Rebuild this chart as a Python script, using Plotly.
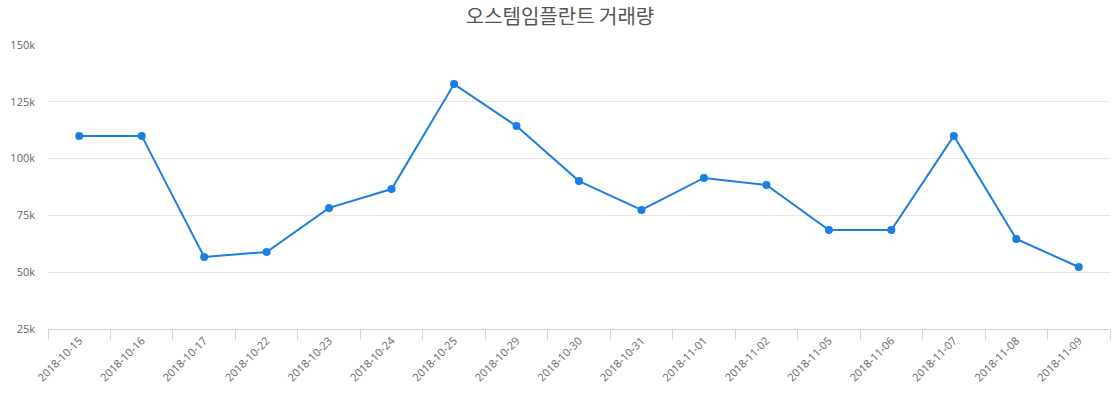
import plotly.graph_objects as go

dates = ["2018-10-15", "2018-10-16", "2018-10-17", "2018-10-22", "2018-10-23", "2018-10-24",
         "2018-10-25", "2018-10-29", "2018-10-30", "2018-10-31", "2018-11-01", "2018-11-02",
         "2018-11-05", "2018-11-06", "2018-11-07", "2018-11-08", "2018-11-09"]
volume = [110000, 110000, 56700, 58900, 78300, 86600, 132800, 114300, 90100, 77400,
          91500, 88400, 68600, 68600, 110000, 64600, 52300]
y_ticks = [25000, 50000, 75000, 100000, 125000, 150000]
y_tick_labels = ["25k", "50k", "75k", "100k", "125k", "150k"]
title = "오스템임플란트 거래량"

font_family = "Open Sans, Noto Sans CJK KR, sans-serif"

fig = go.Figure(go.Scatter(
    x=dates, y=volume, mode="lines+markers",
    line=dict(color="#1a7fe0", width=2),
    marker=dict(color="#1a7fe0", size=8),
    hoverinfo="x+y",
))

fig.update_layout(
    width=1120, height=400,
    margin=dict(l=48, r=10, t=45, b=71),
    paper_bgcolor="white", plot_bgcolor="white",
    showlegend=False,
    font=dict(family=font_family, color="#666666", size=11),
    title=dict(text=title, x=0.5, xanchor="center", y=1 - 17 / 400, yanchor="middle",
               yref="container",
               font=dict(family="Noto Sans CJK KR, sans-serif", size=20, color="#555555")),
)
fig.update_xaxes(
    type="category", tickangle=-45, showgrid=False,
    showline=True, linecolor="#ccd6eb", linewidth=1,
    ticks="outside", tickson="boundaries", ticklen=10, tickcolor="#ccd6eb",
    tickfont=dict(size=11, color="#666666"),
    range=[-0.5, len(dates) - 0.5],
)
fig.update_yaxes(
    range=[25000, 150000], tickvals=y_ticks, ticktext=y_tick_labels,
    showgrid=True, gridcolor="#e6e6e6", gridwidth=1, zeroline=False, showline=False,
    tickfont=dict(size=11, color="#666666"), ticklabelstandoff=12,
)

fig.write_html("out.html")
